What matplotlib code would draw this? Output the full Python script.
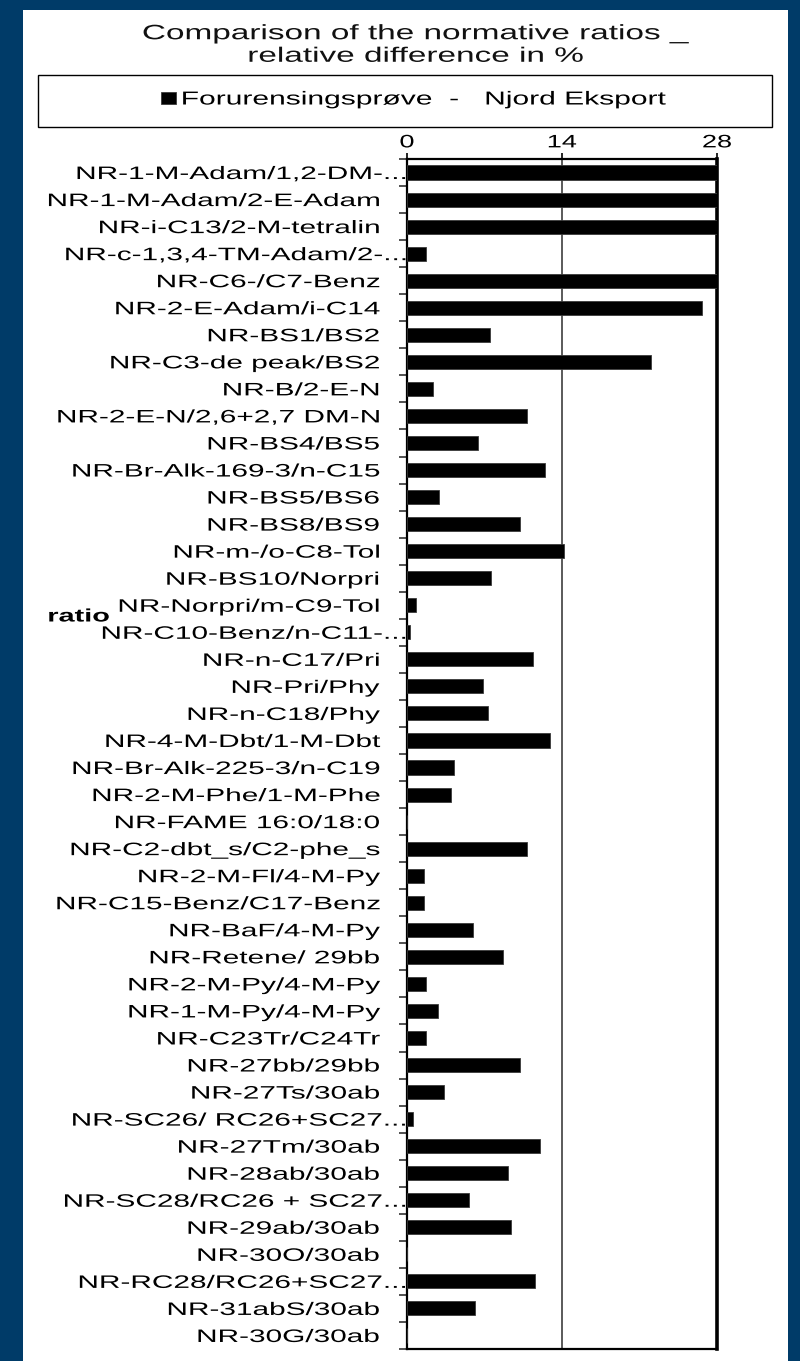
import matplotlib

matplotlib.use("Agg")
import matplotlib.pyplot as plt
from matplotlib.patches import Rectangle
from matplotlib.patheffects import AbstractPathEffect
from matplotlib.ticker import FixedLocator
from matplotlib.transforms import Affine2D

# ratio names, top to bottom
names = [
    "NR-1-M-Adam/1,2-DM-...", "NR-1-M-Adam/2-E-Adam", "NR-i-C13/2-M-tetralin",
    "NR-c-1,3,4-TM-Adam/2-...", "NR-C6-/C7-Benz", "NR-2-E-Adam/i-C14",
    "NR-BS1/BS2", "NR-C3-de peak/BS2", "NR-B/2-E-N", "NR-2-E-N/2,6+2,7 DM-N",
    "NR-BS4/BS5", "NR-Br-Alk-169-3/n-C15", "NR-BS5/BS6", "NR-BS8/BS9",
    "NR-m-/o-C8-Tol", "NR-BS10/Norpri", "NR-Norpri/m-C9-Tol",
    "NR-C10-Benz/n-C11-...", "NR-n-C17/Pri", "NR-Pri/Phy", "NR-n-C18/Phy",
    "NR-4-M-Dbt/1-M-Dbt", "NR-Br-Alk-225-3/n-C19", "NR-2-M-Phe/1-M-Phe",
    "NR-FAME 16:0/18:0", "NR-C2-dbt_s/C2-phe_s", "NR-2-M-Fl/4-M-Py",
    "NR-C15-Benz/C17-Benz", "NR-BaF/4-M-Py", "NR-Retene/ 29bb",
    "NR-2-M-Py/4-M-Py", "NR-1-M-Py/4-M-Py", "NR-C23Tr/C24Tr", "NR-27bb/29bb",
    "NR-27Ts/30ab", "NR-SC26/ RC26+SC27...", "NR-27Tm/30ab", "NR-28ab/30ab",
    "NR-SC28/RC26 + SC27...", "NR-29ab/30ab", "NR-30O/30ab",
    "NR-RC28/RC26+SC27...", "NR-31abS/30ab", "NR-30G/30ab",
]

# relative difference in %
rel_diff = [
    28.0, 28.0, 28.0, 1.7, 28.0, 26.6, 7.5, 22.0, 2.35, 10.8,
    6.4, 12.5, 2.9, 10.2, 14.2, 7.6, 0.8, 0.3, 11.35, 6.9,
    7.3, 12.9, 4.2, 3.95, 0.0, 10.8, 1.5, 1.5, 6.0, 8.65,
    1.7, 2.8, 1.7, 10.2, 3.3, 0.5, 12.0, 9.15, 5.6, 9.4,
    0.0, 11.6, 6.15, 0.0,
]

x_ticks = [0, 14, 28]
series_name = "Forurensingsprøve  -   Njord Eksport"
title = "Comparison of the normative ratios _\nrelative difference in %"

NAVY = "#003B68"
FONT = "Liberation Sans"
WIDE = 1.65


class WideText(AbstractPathEffect):
    """Draw glyph outlines stretched sideways about one edge of the line."""

    def __init__(self, sx=WIDE, anchor="center", dx=0.0):
        super().__init__()
        self._sx = sx
        self._anchor = anchor
        self._dx = dx

    def draw_path(self, renderer, gc, tpath, affine, rgbFace=None):
        box = tpath.get_extents(affine)
        x0 = {"left": box.x0, "right": box.x1,
              "center": 0.5 * (box.x0 + box.x1)}[self._anchor]
        stretch = (Affine2D().translate(-x0, 0).scale(self._sx, 1)
                   .translate(x0 + self._dx, 0))
        renderer.draw_path(gc, tpath, affine + stretch, rgbFace)


plt.rcParams["font.family"] = [FONT, "DejaVu Sans"]

W, H = 800, 1361
fig = plt.figure(figsize=(W / 100, H / 100), dpi=100, facecolor=NAVY)

# white chart panel and the legend frame, both behind the axes
fig.add_artist(Rectangle((23 / W, 0), (788 - 23) / W, 1 - 10 / H,
                         transform=fig.transFigure, facecolor="white",
                         edgecolor="none", zorder=-3))
fig.add_artist(Rectangle((38 / W, 1 - 127 / H), (772 - 38) / W, 52 / H,
                         transform=fig.transFigure, facecolor="white",
                         edgecolor="black", linewidth=1.0, zorder=-2))

ax = fig.add_axes([407 / W, 1 - 1349 / H, 310 / W, (1349 - 159) / H])
ax.set_facecolor("white")

ypos = list(range(len(names)))
bars = ax.barh(ypos, rel_diff, height=0.52, color="black",
               edgecolor="#3a3a3a", linewidth=0.6, label=series_name, zorder=3)

ax.set_xlim(0, 28)
ax.set_ylim(len(names) - 0.5, -0.5)

ax.xaxis.tick_top()
ax.set_xticks(x_ticks)
ax.set_xticklabels([str(t) for t in x_ticks])
ax.tick_params(axis="x", which="major", length=4.5, width=1.2, pad=1,
               labelsize=13, color="black")
ax.grid(axis="x", color="#4d4d4d", linewidth=1.3, zorder=1)
ax.set_axisbelow(True)

ax.set_yticks(ypos)
ticklabels = ax.set_yticklabels(names)
ax.yaxis.set_minor_locator(FixedLocator([i - 0.5 for i in range(len(names) + 1)]))
ax.tick_params(axis="y", which="major", length=0, pad=20, labelsize=13)
ax.tick_params(axis="y", which="minor", length=5.8, width=1.2, color="#333333")

for spine in ax.spines.values():
    spine.set_color("black")
    spine.set_linewidth(1.6)
ax.spines["right"].set_linewidth(2.6)

for lab in ticklabels:
    shift = 26 if lab.get_text().endswith("...") else 0
    lab.set_path_effects([WideText(anchor="right", dx=shift)])
for lab in ax.get_xticklabels():
    lab.set_path_effects([WideText(sx=1.5, anchor="center")])

ylab = ax.set_ylabel("ratio", rotation=0, fontsize=13, fontweight="bold",
                     ha="left", va="center")
ax.yaxis.set_label_coords((48 - 407) / 310, (1349 - 617) / (1349 - 159))
ylab.set_path_effects([WideText(sx=1.6, anchor="left")])

# title
ttl = fig.text(416 / W, 1 - 45 / H, title, ha="center", va="center",
               fontsize=15, linespacing=1.22, color="#111111")
ttl.set_path_effects([WideText(sx=1.6, anchor="center")])

leg = fig.legend(handles=[bars], labels=[series_name], loc="center left",
                 bbox_to_anchor=(161 / W, 1 - 100 / H), frameon=False,
                 fontsize=13.5, handlelength=0.8, handleheight=0.55,
                 handletextpad=0.3, borderpad=0, borderaxespad=0)
for txt in leg.get_texts():
    txt.set_path_effects([WideText(sx=1.6, anchor="left")])

fig.savefig("out.png", dpi=100, facecolor=fig.get_facecolor())
